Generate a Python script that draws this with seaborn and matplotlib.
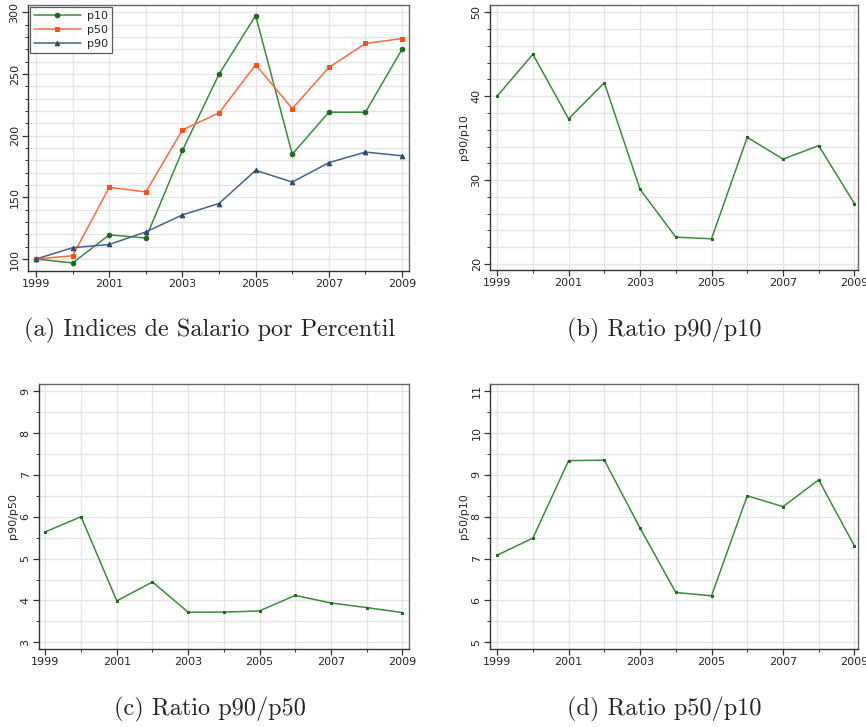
import matplotlib
matplotlib.use("Agg")
import matplotlib.pyplot as plt
import numpy as np
import pandas as pd
import seaborn as sns
from matplotlib.ticker import MultipleLocator, FixedLocator

years = [1999, 2000, 2001, 2002, 2003, 2004, 2005, 2006, 2007, 2008, 2009]
yearLabels = [1999, 2001, 2003, 2005, 2007, 2009]

# salary indices by percentile (1999 = 100)
p10 = [100, 96.8, 119.6, 117, 188, 249.9, 297.3, 185, 219, 219, 270]
p50 = [100, 102.7, 158.1, 154.4, 204.7, 218.4, 257.5, 221.9, 255.3, 274.7, 278.7]
p90 = [100, 109.2, 111.8, 122, 135.8, 145, 171.9, 162.4, 178.1, 186.7, 183.7]

# ratios
ratio_90_10 = [40.0, 45.0, 37.3, 41.6, 28.9, 23.2, 23.0, 35.1, 32.5, 34.1, 27.2]
ratio_90_50 = [5.64, 6.0, 3.99, 4.44, 3.72, 3.72, 3.75, 4.12, 3.94, 3.83, 3.71]
ratio_50_10 = [7.08, 7.49, 9.34, 9.35, 7.73, 6.19, 6.11, 8.50, 8.24, 8.88, 7.30]

captions = ["(a) Indices de Salario por Percentil", "(b) Ratio p90/p10",
            "(c) Ratio p90/p50", "(d) Ratio p50/p10"]

sns.set_style("white")
plt.rcParams['font.family'] = ['DejaVu Sans']

W, H = 866, 727
fig = plt.figure(figsize=(W / 100, H / 100), dpi=100)


def AddAxes(left, top, right, bottom):
    return fig.add_axes([left / W, 1 - bottom / H, (right - left) / W, (bottom - top) / H])


def StyleAxes(ax, xlim, ylim, ymajor, yminor, ylabel):
    ax.set_xlim(*xlim)
    ax.set_ylim(*ylim)
    ax.xaxis.set_major_locator(FixedLocator(yearLabels))
    ax.xaxis.set_minor_locator(FixedLocator(years))
    ax.yaxis.set_major_locator(MultipleLocator(ymajor))
    ax.yaxis.set_minor_locator(MultipleLocator(yminor))
    ax.grid(which='both', color='#e6e6e6', linewidth=1.0)
    ax.set_axisbelow(True)
    ax.tick_params(which='major', direction='out', length=4, width=0.9, color='#333333',
                   labelsize=8, bottom=True, left=True, pad=2)
    ax.tick_params(which='minor', direction='out', length=2.5, width=0.7, color='#333333',
                   bottom=True, left=True)
    for lab in ax.get_yticklabels():
        lab.set_rotation(90)
        lab.set_va('center')
    for side in ['left', 'bottom']:
        ax.spines[side].set_color('#333333')
        ax.spines[side].set_linewidth(1.0)
    for side in ['top', 'right']:
        ax.spines[side].set_color('#666666')
        ax.spines[side].set_linewidth(1.0)
    ax.set_xlabel("")
    ax.set_ylabel(ylabel, fontsize=8, labelpad=2)


# (a) indices
axA = AddAxes(28, 5, 409, 271)
dfIdx = pd.DataFrame({'year': years * 3,
                      'value': p10 + p50 + p90,
                      'serie': ['p10'] * 11 + ['p50'] * 11 + ['p90'] * 11})
palette = {'p10': '#3c8c3c', 'p50': '#ff6a3a', 'p90': '#45658c'}
markers = {'p10': 'o', 'p50': 's', 'p90': '^'}
markerColors = {'p10': '#1b6b1b', 'p50': '#ff4f17', 'p90': '#2c4a72'}
for name in ['p10', 'p50', 'p90']:
    sub = dfIdx[dfIdx['serie'] == name]
    sns.lineplot(data=sub, x='year', y='value', ax=axA, color=palette[name], linewidth=1.1,
                 marker=markers[name], markersize=3.3, markerfacecolor=markerColors[name],
                 markeredgecolor=markerColors[name], label=name)
StyleAxes(axA, (1998.78, 2009.19), (90.3, 305.9), 50, 10, "")
leg = axA.legend(loc='upper left', fontsize=8, frameon=True, fancybox=False, handlelength=4.2,
                 borderaxespad=0.2, labelspacing=0.35, borderpad=0.35, handletextpad=0.6)
leg.get_frame().set_edgecolor('#333333')
leg.get_frame().set_linewidth(0.9)

# ratio panels
ratioPanels = [
    ((490, 5, 858, 270), ratio_90_10, (1998.80, 2009.10), (19.28, 50.87), 10, 2, "p90/p10"),
    ((39, 384, 409, 649), ratio_90_50, (1998.82, 2009.19), (2.84, 9.17), 1, 0.5, "p90/p50"),
    ((490, 384, 858, 649), ratio_50_10, (1998.80, 2009.10), (4.84, 11.17), 1, 0.5, "p50/p10"),
]
for box, vals, xlim, ylim, ymaj, ymin, ylab in ratioPanels:
    ax = AddAxes(*box)
    sns.lineplot(x=years, y=vals, ax=ax, color='#3c8c3c', linewidth=1.1, marker='s',
                 markersize=2, markerfacecolor='#1b6b1b', markeredgecolor='#1b6b1b')
    StyleAxes(ax, xlim, ylim, ymaj, ymin, ylab)

# captions
capPos = [(210, 330), (664, 330), (210, 709), (664, 709)]
for text, (cx, cy) in zip(captions, capPos):
    fig.text(cx / W, 1 - cy / H, text, ha='center', va='center', fontsize=17.5,
             family='cmr10')

fig.savefig("out.png", dpi=100)
